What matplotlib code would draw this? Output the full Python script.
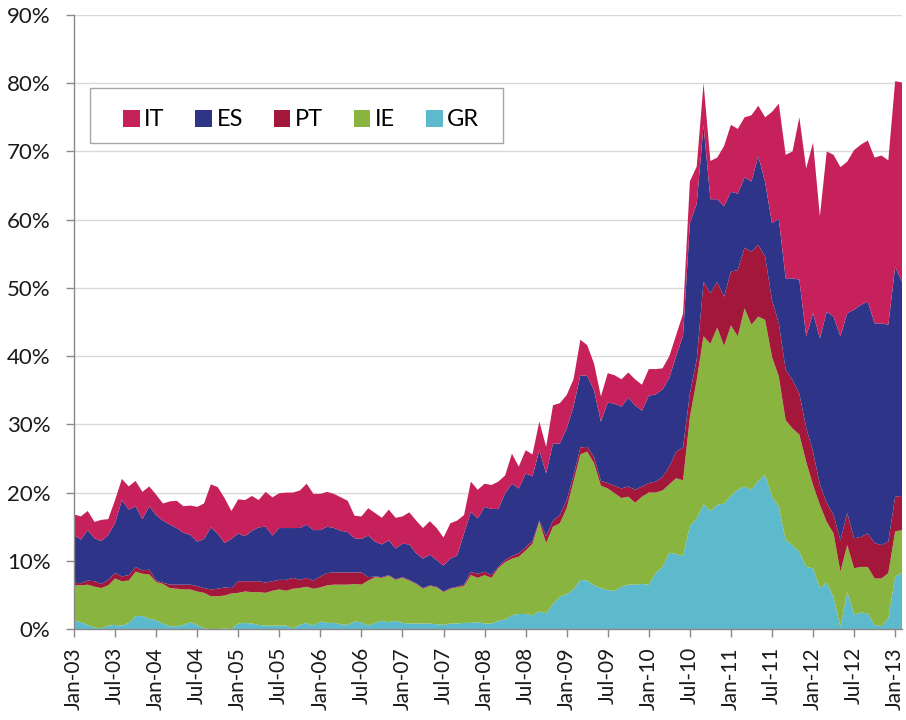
import numpy as np
import pandas as pd
import matplotlib
matplotlib.use("Agg")
import matplotlib.pyplot as plt
from matplotlib.patches import Patch, Rectangle

plt.rcParams['font.family'] = ['Lato', 'DejaVu Sans']

# monthly, Jan-03 .. Feb-13, values in %
months = pd.date_range("2003-01-01", periods=122, freq="MS")

GR = [1.3, 1.0, 0.6, 0.2, 0.1, 0.5, 0.6, 0.5, 0.9, 1.9,
      1.9, 1.5, 1.3, 0.8, 0.4, 0.4, 0.6, 1.0, 0.6, 0.1,
      0.0, 0.0, 0.1, 0.0, 0.8, 0.9, 0.8, 0.6, 0.5, 0.5,
      0.5, 0.5, 0.1, 0.6, 0.9, 0.5, 1.1, 0.9, 0.9, 0.7,
      0.6, 1.1, 1.0, 0.5, 0.9, 1.2, 1.0, 1.2, 0.9, 0.8,
      0.8, 0.8, 0.8, 0.7, 0.6, 0.8, 0.8, 0.9, 0.9, 1.0,
      0.8, 0.8, 1.2, 1.4, 2.0, 2.2, 2.2, 2.0, 2.6, 2.3,
      3.7, 4.7, 5.1, 5.8, 7.2, 7.1, 6.4, 6.0, 5.7, 5.6,
      6.2, 6.5, 6.5, 6.6, 6.5, 8.2, 9.1, 11.2, 11.0, 10.7,
      15.1, 16.2, 18.3, 17.3, 18.2, 18.4, 19.5, 20.4, 20.9, 20.4,
      21.7, 22.6, 19.4, 17.9, 13.0, 12.3, 11.3, 9.1, 8.9, 6.0,
      6.8, 4.7, 0.3, 5.5, 2.1, 2.4, 2.3, 0.6, 0.4, 1.6,
      7.7, 8.2]

IE = [5.1, 5.4, 5.9, 6.0, 5.9, 5.9, 6.8, 6.5, 6.2, 6.5,
      6.2, 6.5, 5.6, 5.8, 5.6, 5.5, 5.2, 4.8, 4.9, 5.2,
      4.8, 4.8, 4.8, 5.2, 4.5, 4.6, 4.6, 4.8, 4.8, 5.1,
      5.3, 5.1, 5.8, 5.4, 5.3, 5.4, 5.0, 5.5, 5.6, 5.8,
      5.9, 5.5, 5.5, 6.6, 6.7, 6.3, 6.8, 6.0, 6.6, 6.3,
      5.8, 5.1, 5.5, 5.4, 4.8, 5.1, 5.3, 5.4, 7.0, 6.5,
      7.1, 6.7, 7.7, 8.4, 8.3, 8.4, 9.3, 10.5, 13.1, 10.3,
      11.3, 10.8, 12.6, 15.8, 18.4, 18.9, 17.9, 15.0, 14.9, 14.3,
      13.0, 12.9, 12.0, 12.8, 13.5, 11.8, 11.2, 10.0, 11.1, 11.1,
      15.9, 20.3, 24.6, 24.5, 26.0, 23.1, 25.0, 22.5, 26.1, 24.2,
      24.1, 22.7, 20.5, 19.1, 17.6, 17.1, 17.2, 15.4, 12.2, 12.2,
      8.9, 9.3, 8.1, 6.8, 6.8, 6.7, 6.8, 6.8, 7.0, 6.6,
      6.6, 6.3]

PT = [0.4, 0.3, 0.6, 0.8, 0.6, 0.8, 0.8, 0.7, 0.8, 0.7,
      0.5, 0.7, 0.2, 0.2, 0.5, 0.6, 0.7, 0.7, 0.8, 0.7,
      1.0, 1.1, 1.2, 0.8, 1.7, 1.5, 1.6, 1.6, 1.5, 1.4,
      1.4, 1.6, 1.6, 1.2, 1.3, 1.2, 1.6, 1.8, 1.8, 1.8,
      1.8, 1.7, 1.8, 0.5, 0.1, 0.1, 0.1, 0.1, 0.1, 0.1,
      0.1, 0.1, 0.1, 0.1, 0.1, 0.1, 0.1, 0.2, 0.5, 0.6,
      0.5, 0.4, 0.2, 0.3, 0.4, 0.5, 0.5, 0.4, 0.2, 1.0,
      0.9, 1.2, 1.2, 0.9, 1.0, 0.7, 0.9, 0.7, 0.8, 1.1,
      1.4, 1.5, 1.9, 1.5, 1.4, 1.6, 2.0, 2.6, 3.9, 4.8,
      3.5, 3.0, 8.0, 7.4, 6.7, 7.2, 7.9, 9.7, 8.9, 10.7,
      10.5, 9.3, 8.3, 7.8, 7.4, 7.1, 6.0, 5.0, 4.9, 3.0,
      2.8, 2.7, 4.6, 4.7, 4.4, 4.4, 4.9, 5.2, 4.9, 4.6,
      5.1, 5.0]

ES = [7.0, 6.4, 7.4, 6.3, 6.3, 6.6, 7.3, 11.2, 9.6, 8.9,
      7.5, 9.3, 9.6, 9.1, 8.8, 8.3, 7.6, 7.3, 6.5, 7.2,
      9.1, 8.1, 6.5, 7.2, 7.0, 6.6, 7.4, 7.9, 8.2, 6.7,
      7.6, 7.6, 7.3, 7.6, 7.8, 7.4, 6.8, 6.8, 6.5, 6.1,
      5.9, 5.0, 4.9, 6.1, 5.1, 4.8, 5.1, 4.5, 4.9, 5.2,
      4.4, 4.3, 4.5, 3.9, 3.8, 4.3, 4.6, 7.5, 8.8, 8.1,
      9.5, 9.7, 8.5, 9.8, 10.6, 9.5, 10.8, 9.5, 10.3, 9.2,
      11.3, 10.5, 10.5, 10.1, 10.6, 10.4, 9.8, 8.7, 11.8, 12.0,
      12.0, 13.0, 12.4, 11.1, 12.8, 12.8, 12.8, 13.0, 14.0, 16.4,
      25.0, 22.8, 22.9, 13.8, 12.1, 13.3, 11.7, 11.2, 10.3, 10.3,
      13.0, 10.9, 11.3, 15.3, 13.4, 14.9, 16.7, 13.4, 20.3, 21.4,
      28.0, 29.1, 29.9, 29.3, 33.5, 34.0, 34.0, 32.2, 32.5, 31.8,
      33.7, 31.4]

IT = [3.0, 3.4, 2.8, 2.4, 3.1, 2.3, 3.4, 3.1, 3.4, 3.7,
      4.0, 2.9, 3.0, 2.5, 3.4, 4.0, 3.9, 4.3, 5.1, 5.2,
      6.3, 6.8, 6.6, 4.1, 5.0, 5.3, 5.1, 4.0, 5.1, 5.6,
      5.1, 5.2, 5.2, 5.5, 6.0, 5.3, 5.3, 5.1, 5.0, 4.9,
      4.6, 3.3, 3.3, 4.0, 4.2, 3.9, 4.5, 4.5, 4.0, 4.7,
      4.8, 4.5, 4.9, 4.7, 4.1, 5.2, 5.1, 2.7, 4.4, 4.2,
      3.4, 3.5, 4.0, 2.6, 4.4, 3.2, 3.4, 3.2, 4.2, 3.9,
      5.6, 5.9, 4.9, 4.0, 5.2, 4.5, 3.9, 3.7, 4.3, 4.2,
      4.0, 3.7, 3.8, 3.8, 3.9, 3.7, 3.1, 3.2, 3.1, 3.2,
      6.1, 5.5, 6.2, 5.6, 6.1, 8.8, 9.8, 9.5, 8.8, 9.7,
      7.4, 9.5, 16.3, 16.9, 18.1, 18.6, 23.8, 24.6, 25.0, 17.9,
      23.5, 23.7, 24.8, 22.2, 23.4, 23.5, 23.6, 24.3, 24.6, 24.1,
      27.2, 29.2]

colors = {'GR': '#5DB9CC', 'IE': '#8AB440', 'PT': '#A2173A',
          'ES': '#2E3589', 'IT': '#C6215B'}

x = np.arange(len(months))

fig = plt.figure(figsize=(9.06, 7.2), dpi=100)
ax = fig.add_axes([74/906, 1-629/720, (902-74)/906, (629-15)/720])

ax.stackplot(x, GR, IE, PT, ES, IT,
             colors=[colors[k] for k in ['GR', 'IE', 'PT', 'ES', 'IT']],
             linewidth=0)

ax.set_xlim(0, len(months) - 1)
ax.set_ylim(0, 90)
ax.set_yticks(range(0, 91, 10))
ax.set_yticklabels([f"{v}%" for v in range(0, 91, 10)])
ax.set_xticks(x[::6])
ax.set_xticklabels(months[::6].strftime("%b-%y"), rotation=90)

ax.grid(axis='y', color='#D9D9D9', lw=1.0)
ax.set_axisbelow(True)
for s in ['top', 'right']:
    ax.spines[s].set_visible(False)
for s in ['left', 'bottom']:
    ax.spines[s].set_color('#898989')
    ax.spines[s].set_linewidth(1.0)

ax.tick_params(axis='both', direction='out', length=6, width=1.0,
               color='#898989', labelcolor='#1a1a1a')
ax.tick_params(axis='y', pad=11, labelsize=16)
ax.tick_params(axis='x', pad=7, labelsize=15)

# legend frame drawn by hand, entries without frame
box = Rectangle((90/906, 1-143/720), (503-90)/906, (143-88)/720,
                transform=fig.transFigure, facecolor='white',
                edgecolor='#A6A6A6', lw=1.0, clip_on=False, zorder=4)
ax.add_patch(box)

names = ['IT', 'ES', 'PT', 'IE', 'GR']
handles = [Patch(facecolor=colors[n], edgecolor='none') for n in names]
ax.legend(handles, names, ncol=5, loc='center left',
          bbox_to_anchor=(123/906, 1-120/720), bbox_transform=fig.transFigure,
          frameon=False, borderpad=0, borderaxespad=0,
          handlelength=0.7, handleheight=0.7,
          handletextpad=0.2, columnspacing=1.3, fontsize=17)

fig.savefig("out.png", dpi=100)
